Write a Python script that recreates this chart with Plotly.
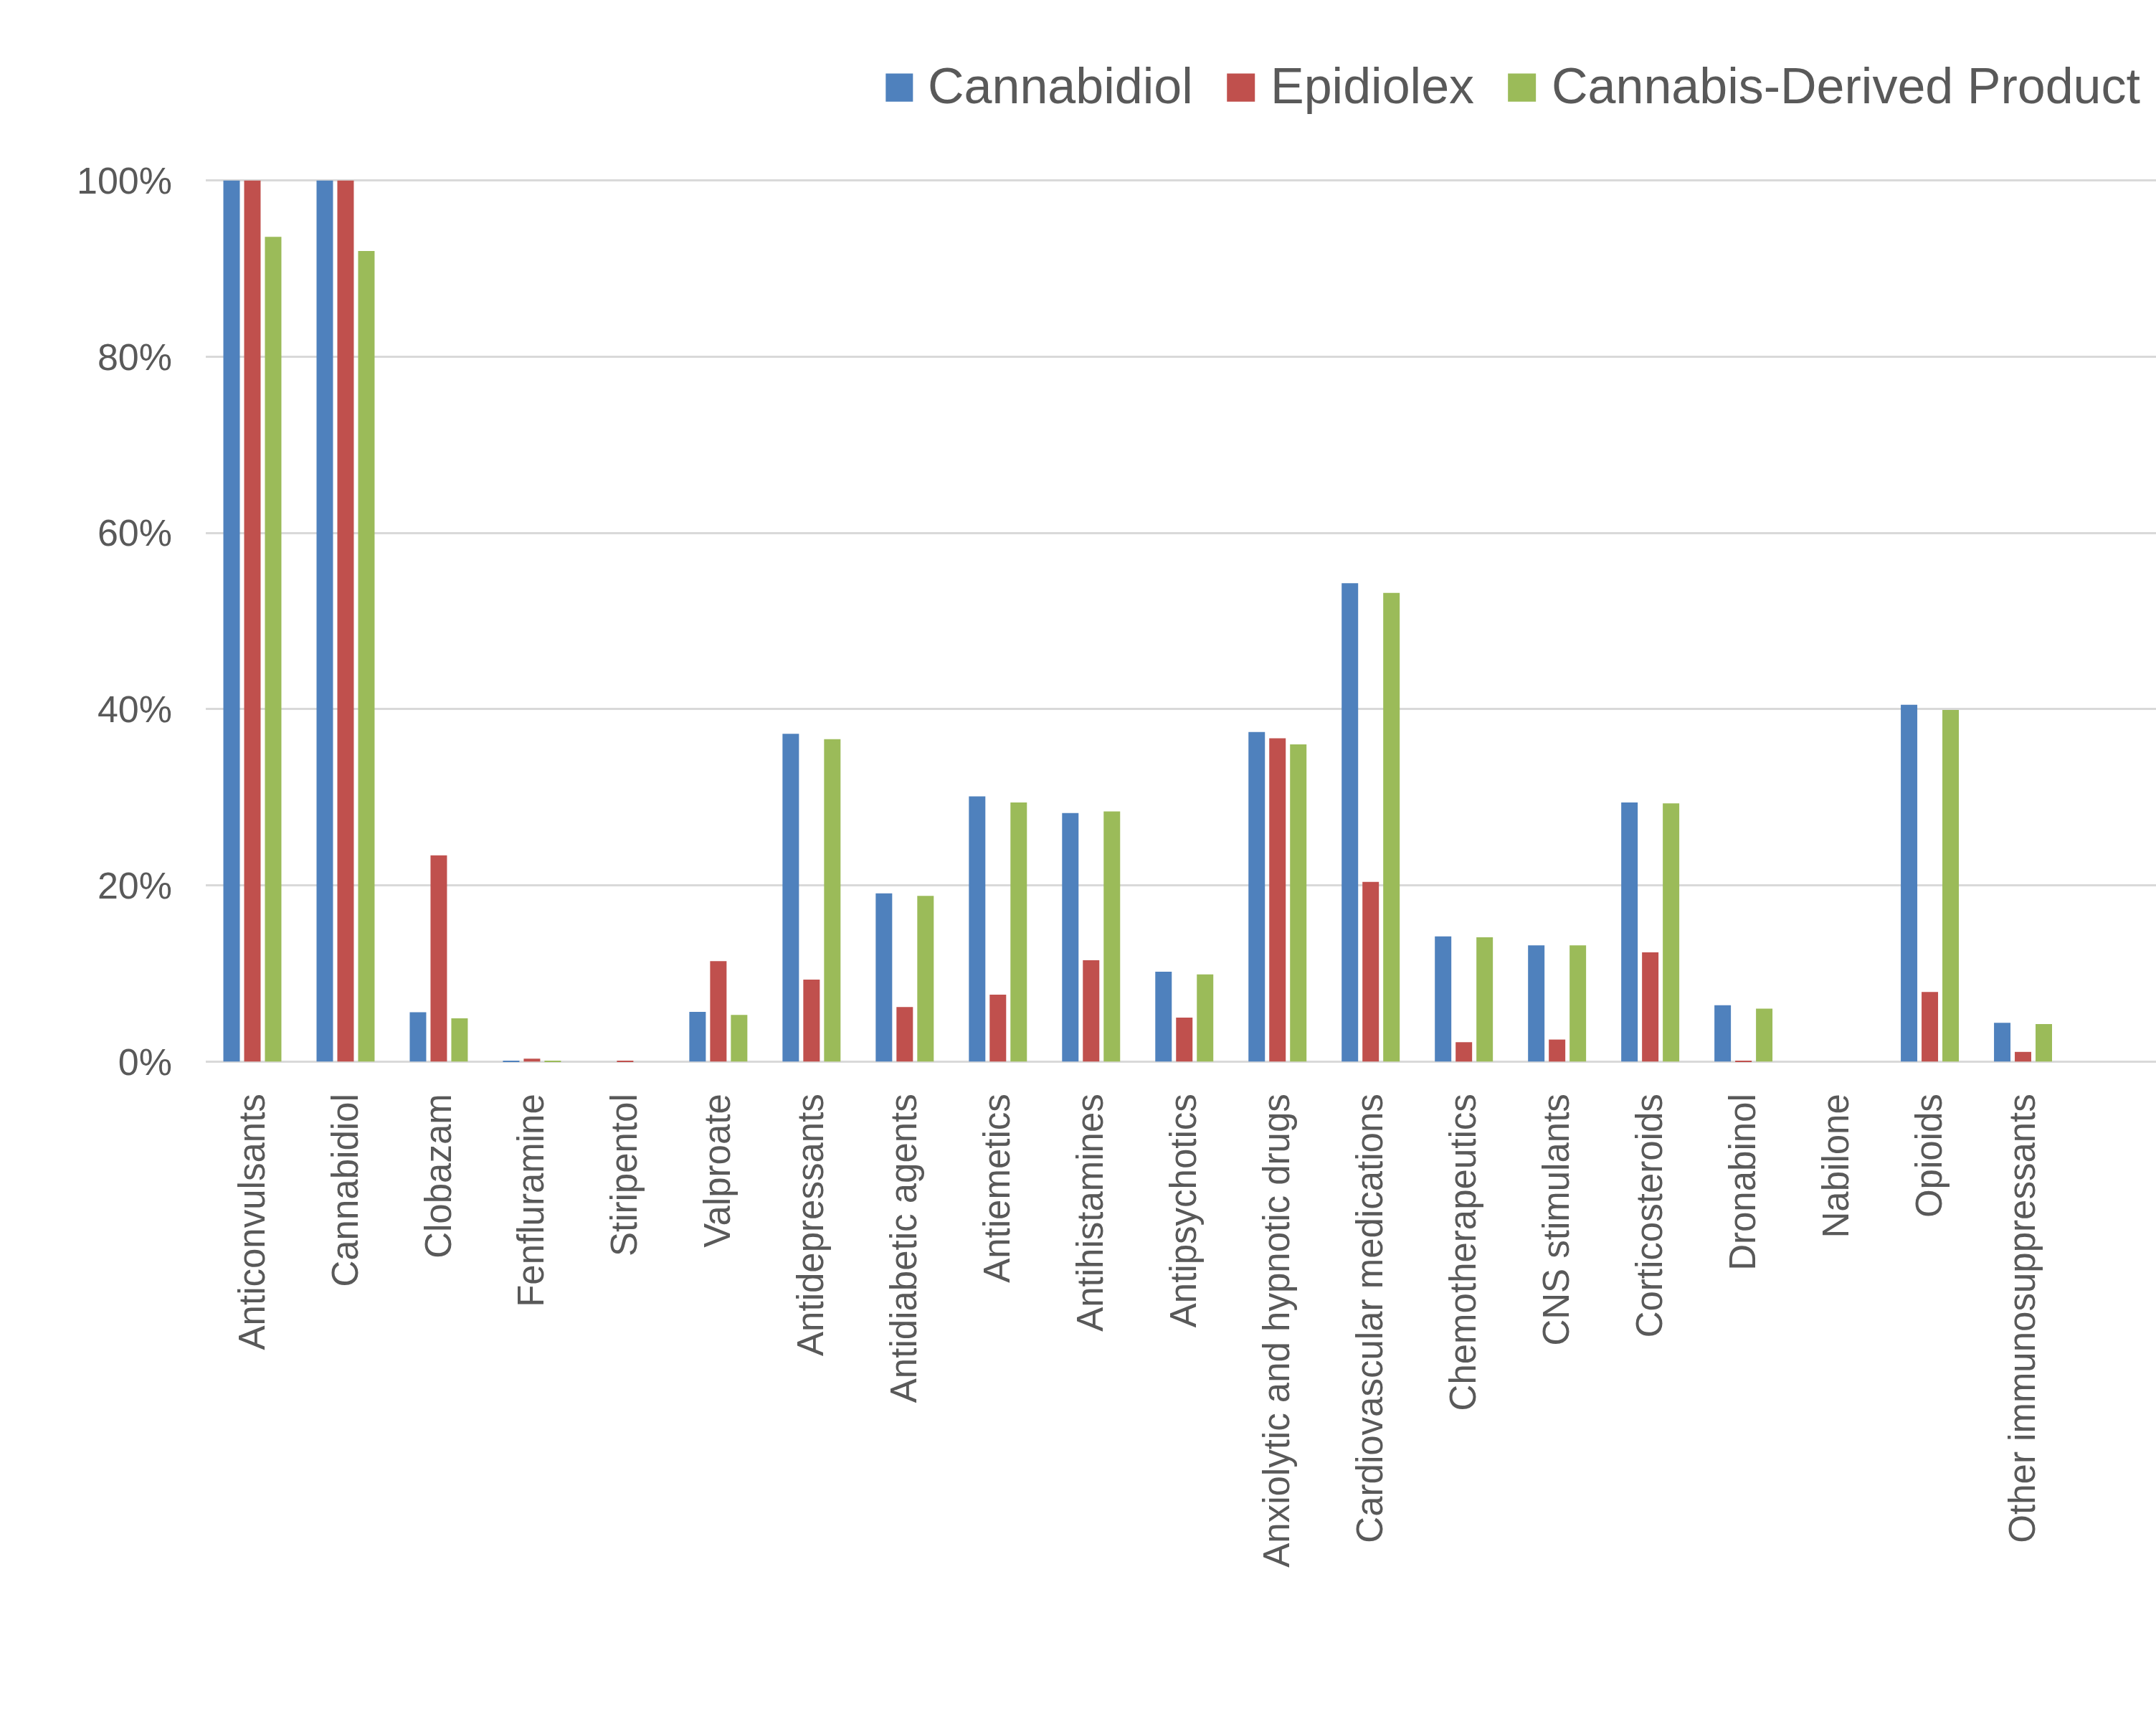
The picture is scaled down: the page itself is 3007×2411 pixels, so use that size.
import plotly.graph_objects as go

categories = ["Anticonvulsants", "Cannabidiol", "Clobazam", "Fenfluramine", "Stiripentol",
              "Valproate", "Antidepressants", "Antidiabetic agents", "Antiemetics",
              "Antihistamines", "Antipsychotics", "Anxiolytic and hypnotic drugs",
              "Cardiovascular medications", "Chemotherapeutics", "CNS stimulants",
              "Corticosteroids", "Dronabinol", "Nabilone", "Opioids",
              "Other immunosuppressants"]

cannabidiol = [100, 100, 5.6, 0.05, 0.0, 5.65, 37.2, 19.1, 30.1, 28.2, 10.2, 37.4,
               54.3, 14.2, 13.2, 29.4, 6.4, 0.0, 40.5, 4.4]
epidiolex = [100, 100, 23.4, 0.33, 0.1, 11.4, 9.3, 6.2, 7.6, 11.5, 5.0, 36.7,
             20.4, 2.2, 2.5, 12.4, 0.1, 0.0, 7.9, 1.1]
cannabis_derived = [93.6, 92.0, 4.9, 0.05, 0.0, 5.3, 36.6, 18.8, 29.4, 28.4, 9.9, 36.0,
                    53.2, 14.1, 13.2, 29.3, 6.0, 0.0, 39.9, 4.25]

series_names = ["Cannabidiol", "Epidiolex", "Cannabis-Derived Product"]
series_colors = ["#4F81BD", "#C0504D", "#9BBB59"]
y_ticks = [0, 20, 40, 60, 80, 100]
y_tick_labels = ["0%", "20%", "40%", "60%", "80%", "100%"]

W, H = 3007, 2411
PAD = 0.3            # small range padding so 0% and 100% gridlines are drawn
PX_PER_UNIT = 12.28
L, R = 286.5, 0
T = 252 - PAD * PX_PER_UNIT
B = 931 - PAD * PX_PER_UNIT
PW = W - L - R
PH = H - T - B

fig = go.Figure()
for name, vals, col in zip(series_names, [cannabidiol, epidiolex, cannabis_derived], series_colors):
    fig.add_trace(go.Bar(x=list(range(len(categories))), y=vals, name=name,
                         marker=dict(color=col, line=dict(width=0)), showlegend=False))

text_color = "#595959"
font_family = "Liberation Sans, Arial, sans-serif"


def px_x(px):
    return (px - L) / PW


def px_y(py):
    return (H - B - py) / PH


# manual legend (large square keys)
legend_items = [(1235, 1273, 1292), (1711, 1750, 1770), (2103, 2142, 2162)]
shapes = []
annotations = []
for (x0, x1, tx), name, col in zip(legend_items, series_names, series_colors):
    shapes.append(dict(type="rect", xref="paper", yref="paper",
                       x0=px_x(x0), x1=px_x(x1), y0=px_y(142), y1=px_y(103),
                       fillcolor=col, line=dict(width=0)))
    annotations.append(dict(xref="paper", yref="paper", x=px_x(tx), y=px_y(120),
                            xanchor="left", yanchor="middle", text=name, showarrow=False,
                            font=dict(size=70, color=text_color, family=font_family)))

fig.update_layout(
    width=W, height=H,
    margin=dict(l=L, r=R, t=T, b=B, pad=0),
    paper_bgcolor="white", plot_bgcolor="white",
    barmode="group", bargap=0.331, bargroupgap=0.207,
    font=dict(family=font_family, color=text_color),
    shapes=shapes, annotations=annotations,
    showlegend=False,
)
fig.update_xaxes(
    range=[-0.5, -0.5 + PW / 130.0],
    tickmode="array", tickvals=list(range(len(categories))), ticktext=categories,
    tickangle=-90, tickfont=dict(size=51, color=text_color, family=font_family),
    showgrid=False, zeroline=False, showline=False, ticks="", ticklabelstandoff=30,
)
fig.update_yaxes(
    range=[-PAD, 100 + PAD], tickmode="array", tickvals=y_ticks, ticktext=y_tick_labels,
    tickfont=dict(size=52, color=text_color, family=font_family),
    showgrid=True, gridcolor="#D9D9D9", gridwidth=2.5, zeroline=False, showline=False,
    ticks="", ticklabelstandoff=46,
)

fig.write_html("out.html")
